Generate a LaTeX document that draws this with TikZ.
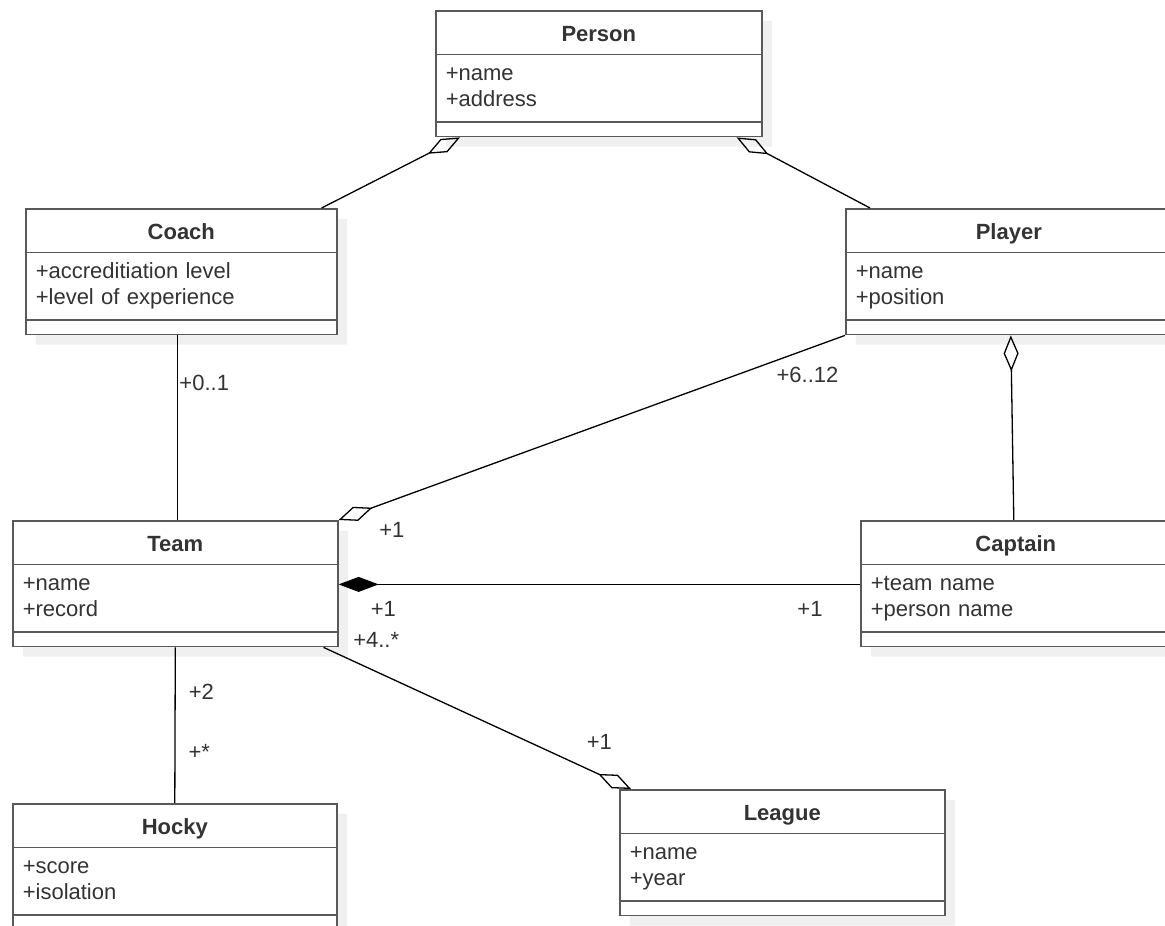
\documentclass[tikz,border=0pt]{standalone}
\usepackage{fontspec}
\setmainfont{Liberation Sans}
\usetikzlibrary{arrows.meta, shapes.multipart, shadows, positioning}

\definecolor{umlline}{HTML}{595959}
\definecolor{umltext}{HTML}{333333}

% title, two attributes, empty operations part
\newcommand{\umlclass}[3]{%
  {\centering\bfseries\rule[-12pt]{0pt}{42pt}#1\par}%
  \nodepart{two}\rule{0pt}{25pt}#2\\#3\rule[-15pt]{0pt}{15pt}%
  \nodepart{three}\rule{0pt}{13pt}}

\begin{document}
\begin{tikzpicture}[x=1pt, y=-1pt,
    cls/.style={rectangle split, rectangle split parts=3, draw=umlline, line width=1.6pt,
        fill=white, anchor=north west, inner xsep=10pt, inner ysep=0pt, align=left,
        font=\fontsize{22}{26}\selectfont, text=umltext,
        drop shadow={shadow xshift=10pt, shadow yshift=-10pt, fill=black, opacity=0.06}},
    lbl/.style={font=\fontsize{22}{26}\selectfont, text=umltext, inner sep=1pt},
    assoc/.style={line width=1.3pt},
    aggr/.style={line width=1.3pt, arrows={Diamond[open, length=36pt, width=15pt]-}},
    comp/.style={line width=1.3pt, arrows={Diamond[length=40pt, width=15pt]-}}]

\clip (0,0) rectangle (1165,926);
\fill[white] (0,0) rectangle (1165,926);

\node[cls, text width=306pt] at (435,10)  (person)  {\umlclass{Person}{+name}{+address}};
\node[cls, text width=291pt] at (25,208)  (coach)   {\umlclass{Coach}{+accreditiation level}{+level of experience}};
\node[cls, text width=306pt] at (845,208) (player)  {\umlclass{Player}{+name}{+position}};
\node[cls, text width=305pt] at (12,520)  (team)    {\umlclass{Team}{+name}{+record}};
\node[cls, text width=290pt] at (860,520) (captain) {\umlclass{Captain}{+team name}{+person name}};
\node[cls, text width=304pt] at (12,803)  (hocky)   {\umlclass{Hocky}{+score}{+isolation}};
\node[cls, text width=305pt] at (619,789) (league)  {\umlclass{League}{+name}{+year}};

\draw[aggr] ([xshift=25]person.south west) -- ([xshift=-16]coach.north east);
\draw[aggr] ([xshift=-26]person.south east) -- ([xshift=25]player.north west);
\draw[assoc] ([xshift=-3.5]coach.south) -- node[lbl, pos=0.255, anchor=west] (m-coach) {+0..1} ([xshift=2.5]team.north);
\draw[aggr] (team.north east)
    -- node[lbl, pos=0, anchor=west, xshift=39pt, yshift=-10pt] (m-team-p) {+1}
       node[lbl, pos=1, anchor=north east, xshift=-5pt, yshift=-30pt] (m-player) {+6..12}
    (player.south west);
\draw[aggr] ([xshift=2]player.south) -- ([xshift=-2]captain.north);
\draw[comp] ([yshift=-20]team.text split east)
    -- node[lbl, pos=0.086, below=15pt] (m-team-c) {+1}
       node[lbl, pos=0.904, below=15pt] (m-captain) {+1}
    ([yshift=-20]captain.text split west);
\draw[aggr] ([xshift=12]league.north west)
    -- node[lbl, pos=0.103, above=23pt] (m-league) {+1}
       node[lbl, pos=1, anchor=west, xshift=28pt, yshift=7pt] (m-team-l) {+4..*}
    ([xshift=-15]team.south east);
\draw[assoc] (team.south)
    -- node[lbl, pos=0.288, right=12pt] (m-team-h) {+2}
       node[lbl, pos=0.673, right=12pt] (m-hocky) {+*}
    (hocky.north);

\end{tikzpicture}
\end{document}
